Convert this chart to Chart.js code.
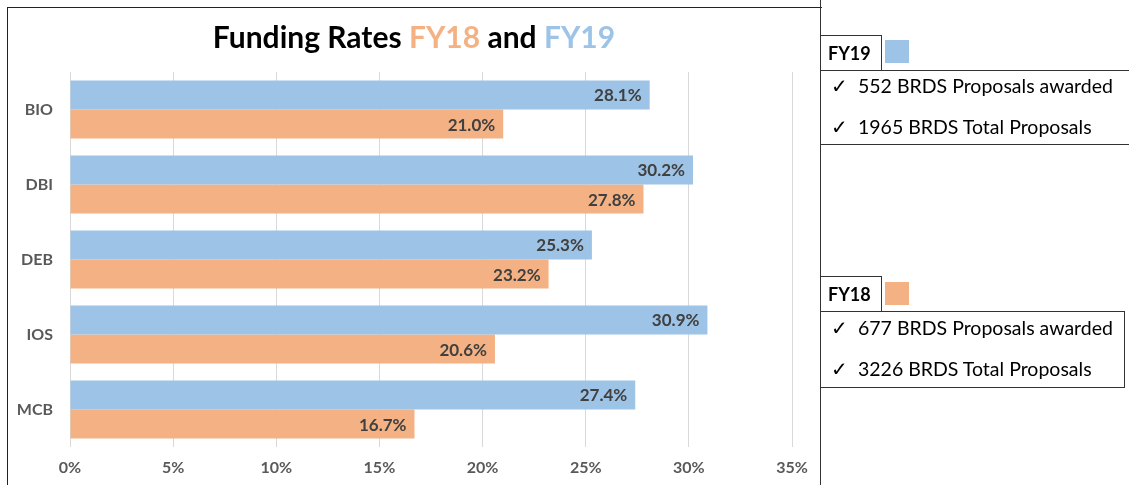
<!DOCTYPE html>
<html>
<head>
<meta charset="utf-8">
<script src="https://cdn.jsdelivr.net/npm/chart.js@4.4.1/dist/chart.umd.min.js"></script>
<style>
  html, body { margin:0; padding:0; background:#fff; }
  body { width:1129px; height:485px; position:relative; overflow:hidden; font-family: Lato, "Open Sans", sans-serif; }
  #wrap { position:absolute; left:0; top:0; width:821px; height:485px; }
  #frame { position:absolute; left:7px; top:7px; width:814px; height:490px; border-left:1.5px solid #222; border-top:1.5px solid #222; }
  #vline { position:absolute; left:820px; top:0; width:0; height:485px; border-left:1.5px solid #333; }
  #title { position:absolute; left:0; width:828px; top:18px; text-align:center; font-weight:700; font-size:30px; color:#000; white-space:nowrap; }
  .tag { position:absolute; left:821px; width:61px; height:34px; border:1px solid #333; border-left:none; font-weight:700; font-size:18px; line-height:34px; text-indent:7px; color:#000; box-sizing:border-box; }
  .sq { position:absolute; left:885px; width:24px; height:23px; }
  .list { position:absolute; left:821px; border:1.5px solid #333; border-left:none; box-sizing:border-box; font-size:19.5px; color:#000; }
  .list div { position:absolute; left:10px; white-space:nowrap; }
</style>
</head>
<body>
<div id="wrap"><canvas id="c"></canvas></div>
<div id="frame"></div>
<div id="vline"></div>
<div id="title">Funding Rates <span style="color:#F4B183">FY18</span> and <span style="color:#9DC3E6">FY19</span></div>

<div class="tag" style="top:35px; height:36px;">FY19</div>
<div class="sq" style="top:40px; background:#9DC3E6;"></div>
<div class="list" style="top:70px; width:320px; height:75px; border-right:none;">
  <div style="top:3px;">✓&nbsp; 552 BRDS Proposals awarded</div>
  <div style="top:44px;">✓&nbsp; 1965 BRDS Total Proposals</div>
</div>

<div class="tag" style="top:276px; height:36px;">FY18</div>
<div class="sq" style="top:282px; background:#F4B183;"></div>
<div class="list" style="top:311px; width:304px; height:77px;">
  <div style="top:4px;">✓&nbsp; 677 BRDS Proposals awarded</div>
  <div style="top:45px;">✓&nbsp; 3226 BRDS Total Proposals</div>
</div>

<script>
const categories = ["BIO", "DBI", "DEB", "IOS", "MCB"];
const fy19 = [28.1, 30.2, 25.3, 30.9, 27.4];
const fy18 = [21.0, 27.8, 23.2, 20.6, 16.7];
const xTicks = [0, 5, 10, 15, 20, 25, 30, 35];

const labelPlugin = {
  id: 'barLabels',
  afterDatasetsDraw(chart) {
    const ctx = chart.ctx;
    ctx.save();
    ctx.font = 'bold 17px Lato, "Open Sans", sans-serif';
    ctx.fillStyle = '#404040';
    ctx.textAlign = 'right';
    ctx.textBaseline = 'middle';
    chart.data.datasets.forEach((ds, i) => {
      chart.getDatasetMeta(i).data.forEach((bar, j) => {
        ctx.fillText(ds.data[j].toFixed(1) + '%', bar.x - 8, bar.y + 1);
      });
    });
    ctx.restore();
  }
};

new Chart(document.getElementById('c'), {
  type: 'bar',
  data: {
    labels: categories,
    datasets: [
      { label: 'FY19', data: fy19, backgroundColor: '#9DC3E6', borderWidth: 0 },
      { label: 'FY18', data: fy18, backgroundColor: '#F4B183', borderWidth: 0 }
    ]
  },
  options: {
    indexAxis: 'y',
    responsive: true,
    maintainAspectRatio: false,
    animation: false,
    layout: { padding: { top: 72, right: 29, left: 0, bottom: 0 } },
    plugins: { legend: { display: false }, tooltip: { enabled: false } },
    datasets: { bar: { categoryPercentage: 0.775, barPercentage: 1.0 } },
    scales: {
      x: {
        min: 0, max: 35,
        afterBuildTicks(scale) { scale.ticks = xTicks.map(v => ({ value: v })); },
        afterFit(scale) { scale.height = 38; },
        grid: { color: '#d9d9d9', lineWidth: 1, drawTicks: false },
        border: { display: false },
        ticks: {
          padding: 11,
          color: '#595959',
          font: { family: 'Lato, "Open Sans", sans-serif', size: 16, weight: 'bold' },
          callback: v => v + '%'
        }
      },
      y: {
        afterFit(scale) { scale.width = 70; },
        grid: { display: false, drawTicks: false },
        border: { display: false },
        ticks: {
          padding: 17,
          color: '#595959',
          font: { family: 'Lato, "Open Sans", sans-serif', size: 16, weight: 'bold' }
        }
      }
    }
  },
  plugins: [labelPlugin]
});
</script>
</body>
</html>
